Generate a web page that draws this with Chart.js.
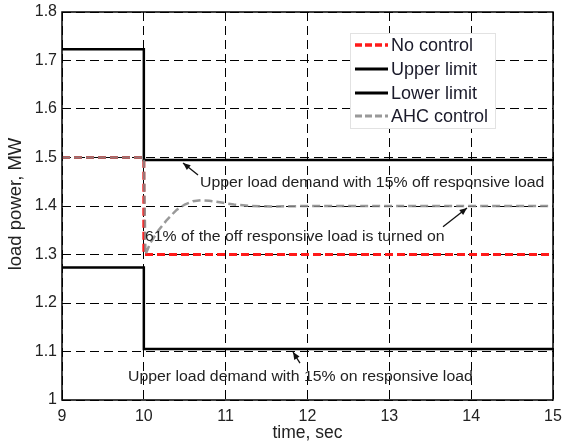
<!DOCTYPE html>
<html><head><meta charset="utf-8">
<script src="https://cdn.jsdelivr.net/npm/chart.js@4.4.1/dist/chart.umd.min.js"></script>
<style>html,body{margin:0;padding:0;background:#fff}canvas{display:block}</style>
</head><body>
<canvas id="c" width="563" height="445"></canvas>
<script>
// ---- data ----
const xTicks = [9, 10, 11, 12, 13, 14, 15];
const yTicks = [1, 1.1, 1.2, 1.3, 1.4, 1.5, 1.6, 1.7, 1.8];
const seriesNames = ['No control', 'Upper limit', 'Lower limit', 'AHC control'];
const noControlT = [9, 10, 10, 15];
const noControlP = [1.5, 1.5, 1.3, 1.3];
const upperT = [9, 10, 10, 15];
const upperP = [1.723, 1.723, 1.495, 1.495];
const lowerT = [9, 10, 10, 15];
const lowerP = [1.273, 1.273, 1.105, 1.105];
const ahcT = [9, 10, 10.02, 10.08, 10.18, 10.28, 10.4, 10.5, 10.6, 10.7, 10.8, 10.95, 11.1, 11.3, 11.6, 12, 15];
const ahcP = [1.5, 1.5, 1.30, 1.324, 1.35, 1.371, 1.392, 1.403, 1.41, 1.412, 1.411, 1.407, 1.403, 1.400, 1.399, 1.4, 1.4];
const notes = [
  {text: 'Upper load demand with 15% off responsive load', x: 10.686, y: 1.447, ax0: 10.662, ay0: 1.464, ax1: 10.479, ay1: 1.4887},
  {text: '61% of the off responsive load is turned on', x: 10.014, y: 1.336, ax0: 13.656, ay0: 1.357, ax1: 13.949, ay1: 1.396},
  {text: 'Upper load demand with 15% on responsive load', x: 9.807, y: 1.047, ax0: 11.908, ay0: 1.076, ax1: 11.823, ay1: 1.099}
];
const xTitle = 'time, sec';
const yTitle = 'load power, MW';

const pts = (t, p) => t.map((v, i) => ({x: v, y: p[i]}));
const styles = [
  {color: '#ff1a1a', width: 3, dash: [8, 4], order: 2},
  {color: '#000000', width: 2.5, dash: [], order: 1},
  {color: '#000000', width: 2.5, dash: [], order: 1},
  {color: 'rgba(135,135,135,0.85)', width: 2.5, dash: [8, 4], order: 0}
];
const dataArr = [pts(noControlT, noControlP), pts(upperT, upperP), pts(lowerT, lowerP), pts(ahcT, ahcP)];

const FONT = '"Liberation Sans", Arial, Helvetica, sans-serif';

const overlay = {
  id: 'overlay',
  afterDraw(chart) {
    const ctx = chart.ctx, a = chart.chartArea;
    const xs = chart.scales.x, ys = chart.scales.y;
    ctx.save();
    // frame
    ctx.strokeStyle = '#000'; ctx.lineWidth = 1.5; ctx.setLineDash([]);
    ctx.strokeRect(a.left, a.top, a.right - a.left, a.bottom - a.top);
    // annotations
    ctx.textAlign = 'left'; ctx.textBaseline = 'middle';
    notes.forEach(n => {
      const tx = xs.getPixelForValue(n.x), ty = ys.getPixelForValue(n.y);
      ctx.save();
      ctx.translate(tx, ty); ctx.scale(1.13, 1);
      ctx.font = '14px ' + FONT; ctx.fillStyle = '#222';
      ctx.fillText(n.text, 0, 0);
      ctx.restore();
      const x0 = xs.getPixelForValue(n.ax0), y0 = ys.getPixelForValue(n.ay0);
      const x1 = xs.getPixelForValue(n.ax1), y1 = ys.getPixelForValue(n.ay1);
      ctx.strokeStyle = '#111'; ctx.lineWidth = 1.3;
      ctx.beginPath(); ctx.moveTo(x0, y0); ctx.lineTo(x1, y1); ctx.stroke();
      const ang = Math.atan2(y1 - y0, x1 - x0), L = 8, w = 0.4;
      ctx.fillStyle = '#111';
      ctx.beginPath(); ctx.moveTo(x1, y1);
      ctx.lineTo(x1 - L * Math.cos(ang - w), y1 - L * Math.sin(ang - w));
      ctx.lineTo(x1 - L * Math.cos(ang + w), y1 - L * Math.sin(ang + w));
      ctx.closePath(); ctx.fill();
    });
    // legend
    const lx = 350, ly = 33, lw = 145, lh = 95;
    ctx.fillStyle = '#fff'; ctx.fillRect(lx, ly, lw, lh);
    ctx.strokeStyle = '#e2e2e2'; ctx.lineWidth = 1; ctx.strokeRect(lx + 0.5, ly + 0.5, lw, lh);
    const rows = [45, 69, 93, 116];
    ctx.font = '18px ' + FONT; ctx.textBaseline = 'middle';
    seriesNames.forEach((name, i) => {
      const s = styles[i];
      ctx.strokeStyle = s.color; ctx.lineWidth = s.width + 0.5; ctx.setLineDash(s.dash.length ? [7, 3] : []);
      ctx.beginPath(); ctx.moveTo(355, rows[i]); ctx.lineTo(388, rows[i]); ctx.stroke();
      ctx.setLineDash([]);
      ctx.fillStyle = '#1a1a2a'; ctx.fillText(name, 391, rows[i] + 1);
    });
    // axis titles
    ctx.fillStyle = '#222'; ctx.textAlign = 'center';
    ctx.font = '17.5px ' + FONT;
    ctx.fillText(xTitle, (a.left + a.right) / 2, 433);
    ctx.font = '18.5px ' + FONT;
    ctx.translate(16, 204); ctx.rotate(-Math.PI / 2);
    ctx.fillText(yTitle, 0, 0);
    ctx.restore();
  }
};

new Chart(document.getElementById('c'), {
  type: 'line',
  data: {
    datasets: dataArr.map((d, i) => ({
      label: seriesNames[i], data: d,
      borderColor: styles[i].color, borderWidth: styles[i].width, borderDash: styles[i].dash,
      pointRadius: 0, fill: false, tension: 0, order: styles[i].order
    }))
  },
  options: {
    responsive: false, animation: false, devicePixelRatio: 1,
    layout: {padding: {top: 12, right: 10, left: 0, bottom: 0}},
    plugins: {legend: {display: false}, tooltip: {enabled: false}},
    scales: {
      x: {
        type: 'linear', min: 9, max: 15,
        afterBuildTicks: s => { s.ticks = xTicks.map(v => ({value: v})); },
        afterFit: s => { s.height = 45; s.paddingLeft = 0; s.paddingRight = 0; },
        grid: {color: '#000', lineWidth: 1, drawTicks: false},
        border: {display: false, dash: [9, 5]},
        ticks: {font: {size: 16, family: FONT}, color: '#222', padding: 7, maxRotation: 0}
      },
      y: {
        type: 'linear', min: 1, max: 1.8,
        afterBuildTicks: s => { s.ticks = yTicks.map(v => ({value: v})); },
        afterFit: s => { s.width = 62; s.paddingTop = 0; s.paddingBottom = 0; },
        grid: {color: '#000', lineWidth: 1, drawTicks: false},
        border: {display: false, dash: [9, 5]},
        ticks: {font: {size: 16, family: FONT}, color: '#222', padding: 5,
          callback: v => (Math.round(v * 10) / 10).toString()}
      }
    }
  },
  plugins: [overlay]
});
</script>
</body></html>
